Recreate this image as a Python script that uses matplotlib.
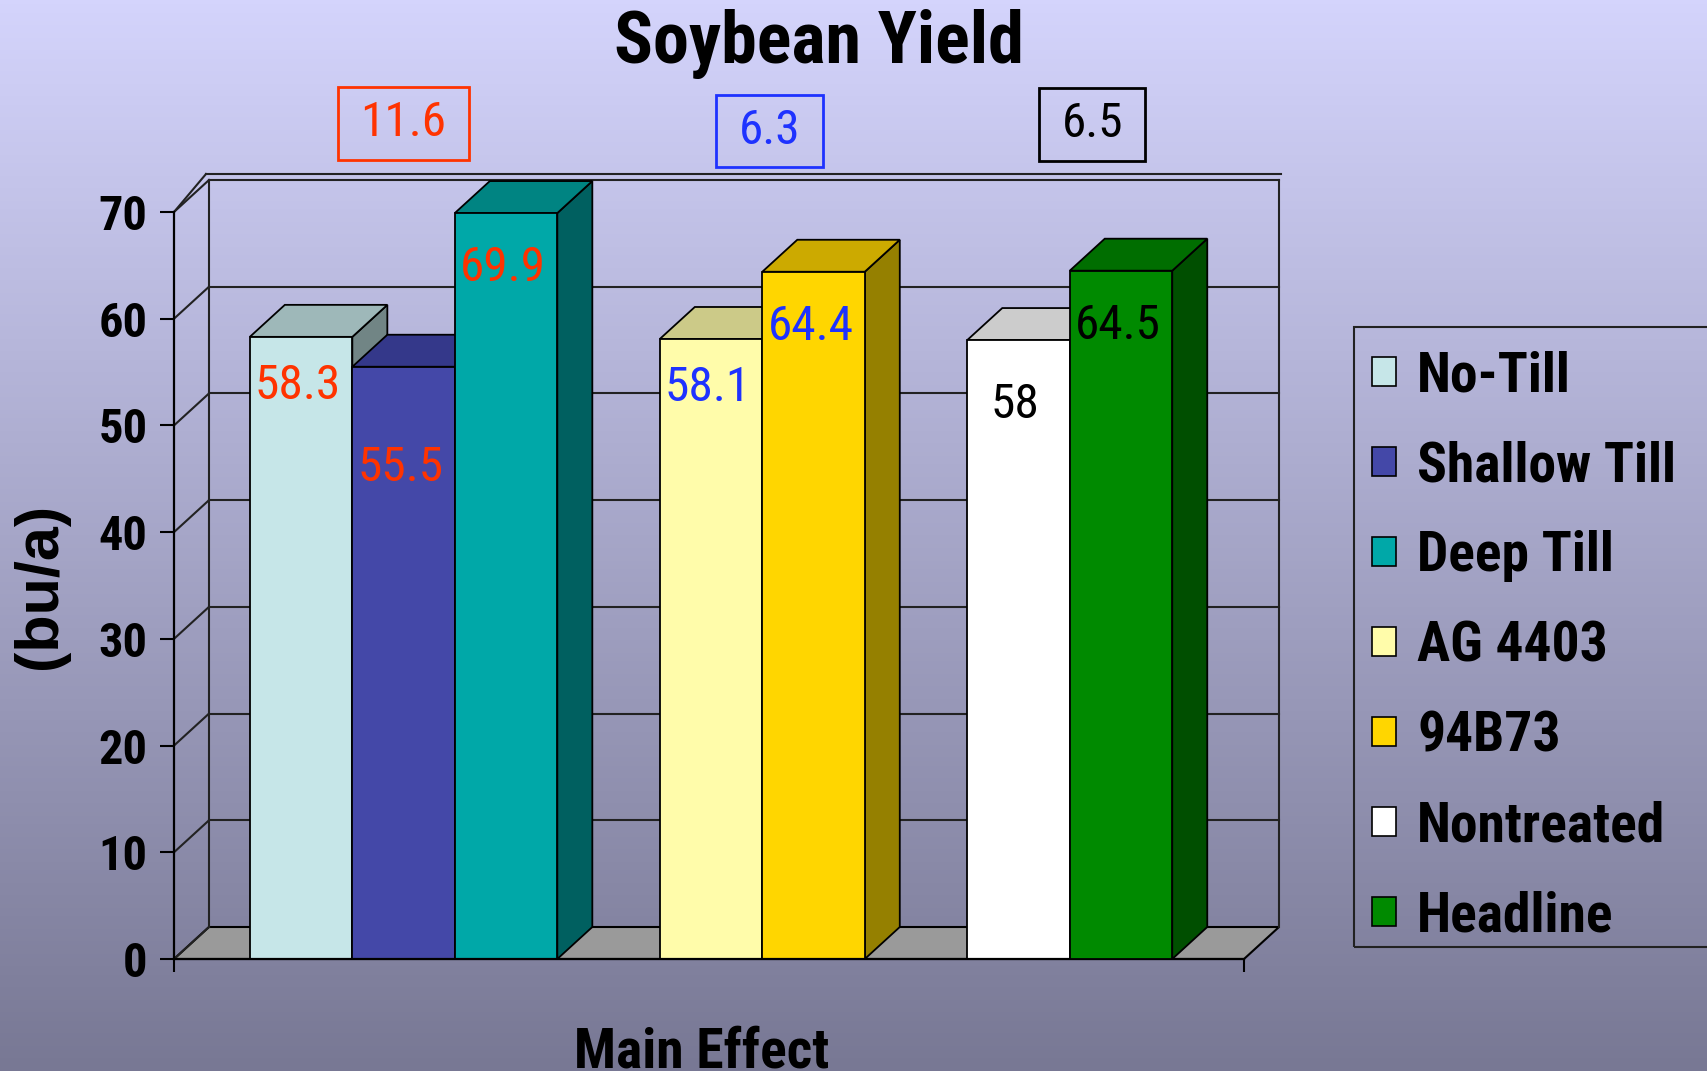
import matplotlib
matplotlib.use("Agg")
import matplotlib.pyplot as plt
import numpy as np
from matplotlib.patches import Rectangle, Polygon, Patch
from matplotlib.path import Path
from matplotlib.font_manager import FontProperties
from matplotlib import font_manager as fm

# ---------------- data ----------------
series_names = ["No-Till", "Shallow Till", "Deep Till", "AG 4403", "94B73", "Nontreated", "Headline"]
yield_values = [58.3, 55.5, 69.9, 58.1, 64.4, 58.0, 64.5]
value_labels = ["58.3", "55.5", "69.9", "58.1", "64.4", "58", "64.5"]
group_of_series = [0, 0, 0, 1, 1, 2, 2]
group_differences = ["11.6", "6.3", "6.5"]
y_ticks = [0, 10, 20, 30, 40, 50, 60, 70]
category_label = "Main Effect"

# ---------------- style ----------------
front_colors = ["#C6E6E8", "#4448A8", "#00A8A8", "#FFFCAA", "#FFD600", "#FFFFFF", "#008A00"]
top_colors = ["#9EB8B9", "#34388A", "#008482", "#CCCA88", "#CCAA00", "#CCCCCC", "#006E00"]
side_colors = ["#718585", "#282C70", "#006060", "#999870", "#958000", "#999999", "#004F00"]
group_colors = ["#FF3300", "#1E32FF", "#000000"]
slot_positions = [0, 1, 2, 4, 5, 7, 8]      # layout slots (gaps between groups)
label_drop_px = [49, 101, 55, 49, 55, 65, 55]
box_x_shift = [0.0, 0.07, 0.22]
box_y = [78.3, 77.6, 78.2]


def _w(f):
    w = f.weight
    if isinstance(w, str):
        return 700 if "bold" in w.lower() else 400
    return int(w)


def pick(cands, bold):
    for name in cands:
        for f in fm.fontManager.ttflist:
            if f.name == name and "[" not in f.fname and f.style == "normal":
                if (bold and _w(f) >= 700) or (not bold and _w(f) in (400, 500)):
                    return name
    return "DejaVu Sans"


NCANDS = ["Liberation Sans Narrow", "Arial Narrow", "Nimbus Sans Narrow", "Roboto Condensed",
          "Encode Sans Condensed"]
NB = pick(NCANDS, True)
NR = pick(NCANDS, False)
REG = ["Liberation Sans", "DejaVu Sans"]

W, H = 1707, 1071
fig = plt.figure(figsize=(W / 100, H / 100), dpi=100)
renderer = fig.canvas.get_renderer()


def fitted_size(s, family, weight, target_w, base=40):
    t = fig.text(0, 0, s, fontproperties=FontProperties(family=family, weight=weight, size=base))
    w = t.get_window_extent(renderer).width
    t.remove()
    return base * target_w / w


# gradient background
bg = fig.add_axes([0, 0, 1, 1], zorder=-10)
top = np.array([212, 212, 252]) / 255
bot = np.array([120, 120, 148]) / 255
t = np.linspace(0, 1, 256)[:, None]
grad = (top[None, :] * (1 - t) + bot[None, :] * t)[:, None, :]
bg.imshow(grad, aspect="auto", extent=[0, 1, 0, 1], origin="upper")
bg.set_axis_off()

# sizes fitted to the reference text widths (px)
tick_size = fitted_size("70", NB, "bold", 49)
val_size = fitted_size("58.3", NR, "normal", 86)
title_size = fitted_size("Soybean Yield", NB, "bold", 410)
xlab_size = fitted_size("Main Effect", NB, "bold", 255)
leg_size = fitted_size("Shallow Till", NB, "bold", 259)

# main axes (front plane)
ax_l, ax_b, ax_w, ax_h = 174, 112, 1070, 747
ax = fig.add_axes([ax_l / W, ax_b / H, ax_w / W, ax_h / H])
ax.set_facecolor("none")
x0, x1 = -0.74, 9.70
ax.set_xlim(x0, x1)
ax.set_ylim(0, 70)
px_x = ax_w / (x1 - x0)
px_y = ax_h / 70.0
DX, DY = 35, 32
dxd, dyd = DX / px_x, DY / px_y

for s in ["top", "right"]:
    ax.spines[s].set_visible(False)
for s in ["left", "bottom"]:
    ax.spines[s].set_linewidth(1.6)
    ax.spines[s].set_color("black")
ax.set_yticks(y_ticks)
ax.set_yticklabels([str(v) for v in y_ticks],
                   fontproperties=FontProperties(family=NB, weight="bold", size=tick_size))
ax.tick_params(axis="y", direction="out", length=10, width=1.5, pad=9)
ax.set_xticks([x0, x1])
ax.set_xticklabels(["", ""])
ax.tick_params(axis="x", direction="out", length=9, width=1.5)

lk = dict(color="#222222", lw=1.5, clip_on=False, zorder=1)
bxl, bxr = x0 + dxd, x1 + dxd
floor = Polygon([(x0, 0), (x1, 0), (bxr, dyd), (bxl, dyd)], closed=True,
                facecolor="#9A9A9A", edgecolor="black", lw=1.5, clip_on=False, zorder=0.5)
ax.add_patch(floor)
for v in y_ticks:
    if v > 0:
        ax.plot([bxl, bxr], [v + dyd, v + dyd], **lk)
    ax.plot([x0, bxl], [v, v + dyd], **lk)
ax.plot([bxl, bxl], [dyd, 70 + dyd], **lk)
ax.plot([bxr, bxr], [dyd, 70 + dyd], **lk)
th = 6 / px_y
ax.plot([bxl - 3 / px_x, bxr + 2 / px_x], [70 + dyd + th, 70 + dyd + th], **lk)
ax.plot([x0, bxl - 3 / px_x], [70, 70 + dyd + th], **lk)

# bars
for i, (pos, v) in enumerate(zip(slot_positions, yield_values)):
    z = 2 + i * 0.1
    ax.add_patch(Polygon([(pos + 1, 0), (pos + 1, v), (pos + 1 + dxd, v + dyd), (pos + 1 + dxd, dyd)],
                         closed=True, facecolor=side_colors[i], edgecolor="black", lw=1.3,
                         clip_on=False, zorder=z))
    ax.add_patch(Polygon([(pos, v), (pos + 1, v), (pos + 1 + dxd, v + dyd), (pos + dxd, v + dyd)],
                         closed=True, facecolor=top_colors[i], edgecolor="black", lw=1.3,
                         clip_on=False, zorder=z))
    ax.add_patch(Rectangle((pos, 0), 1, v, facecolor=front_colors[i], edgecolor="black",
                           lw=1.3, clip_on=False, zorder=z))
    ax.text(pos + 0.47, v - label_drop_px[i] / px_y, value_labels[i], ha="center", va="center",
            color=group_colors[group_of_series[i]],
            fontproperties=FontProperties(family=NR, size=val_size), zorder=5, clip_on=False)


def diff_box(x0_, y0_, width, height, mutation_size):
    px = 0.45 * mutation_size
    py = 0.27 * mutation_size
    verts = [(x0_ - px, y0_ - py), (x0_ + width + px, y0_ - py),
             (x0_ + width + px, y0_ + height + py), (x0_ - px, y0_ + height + py), (x0_ - px, y0_ - py)]
    return Path(verts, [Path.MOVETO, Path.LINETO, Path.LINETO, Path.LINETO, Path.CLOSEPOLY])


for g, txt in enumerate(group_differences):
    members = [slot_positions[i] for i in range(len(slot_positions)) if group_of_series[i] == g]
    gc = (min(members) + max(members) + 1) / 2 + box_x_shift[g]
    ax.text(gc, box_y[g], txt, ha="center", va="center", color=group_colors[g],
            fontproperties=FontProperties(family=NR, size=val_size), clip_on=False, zorder=6,
            bbox=dict(boxstyle=diff_box, facecolor="none", edgecolor=group_colors[g], lw=2))

# titles / labels
fig.text(819 / W, 1 - 63 / H, "Soybean Yield", ha="center", va="baseline",
         fontproperties=FontProperties(family=NB, weight="bold", size=title_size))
fig.text(702 / W, 1 - 1067 / H, category_label, ha="center", va="baseline",
         fontproperties=FontProperties(family=NB, weight="bold", size=xlab_size))
fig.text(41 / W, 1 - 586 / H, "(bu/a)", ha="center", va="center", rotation=90,
         fontproperties=FontProperties(family=REG, weight="bold", size=44))

# legend (two passes to match row pitch); frame drawn separately
handles = [Patch(facecolor=c, edgecolor="black", lw=1.2) for c in front_colors]
Lpx = leg_size * 100 / 72


def make_legend(labelspacing, borderpad):
    lg = fig.legend(handles, series_names, loc="upper left",
                    bbox_to_anchor=(1349 / W, 1 - 327 / H), bbox_transform=fig.transFigure,
                    prop=FontProperties(family=NB, weight="bold", size=leg_size),
                    frameon=False, borderaxespad=0, borderpad=borderpad,
                    handlelength=24 / Lpx, handleheight=24 / Lpx, handletextpad=21 / Lpx,
                    labelspacing=labelspacing)
    return lg


ls, bp = 0.55, 0.3
leg = make_legend(ls, bp)
fig.canvas.draw()
texts = leg.get_texts()
c0 = texts[0].get_window_extent(renderer)
c1 = texts[-1].get_window_extent(renderer)
pitch = ((c0.y0 + c0.y1) / 2 - (c1.y0 + c1.y1) / 2) / 6
first_top = H - (c0.y0 + c0.y1) / 2
ls_new = ls + (90 - pitch) / Lpx
bp_new = max(0.05, bp + (376 - first_top) / Lpx)
leg.remove()
leg = make_legend(ls_new, bp_new)

# legend frame (extends past the right edge as in the reference)
fig.add_artist(Rectangle((1354 / W, 1 - 947 / H), (1720 - 1354) / W, (947 - 327) / H,
                         transform=fig.transFigure, facecolor="none", edgecolor="#222222",
                         lw=1.5, clip_on=False))

fig.savefig("out.png", dpi=100)
